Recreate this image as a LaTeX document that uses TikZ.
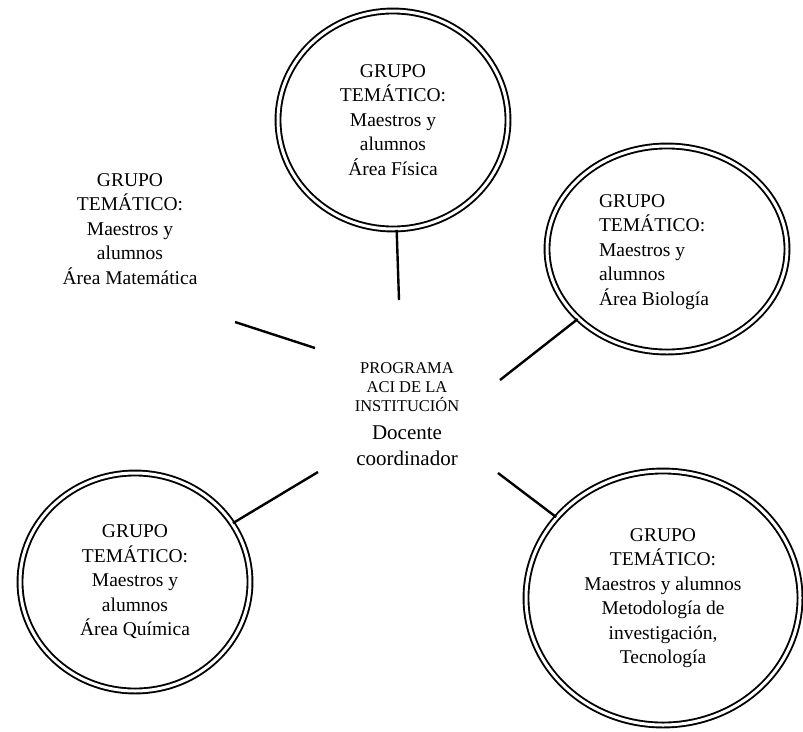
\documentclass[tikz,border=0pt]{standalone}
\usepackage{fontspec}
\setmainfont{Liberation Serif}
\usetikzlibrary{shapes.geometric}

\tikzset{
  grupo/.style={ellipse, draw, double, double distance=3pt, line width=1.9pt,
    inner sep=0pt, align=center, font=\fontsize{19.5}{24.5}\selectfont},
  texto/.style={align=center, inner sep=0pt, font=\fontsize{19.5}{24.5}\selectfont},
  enlace/.style={line width=2.4pt},
}

\begin{document}
\begin{tikzpicture}[x=1pt,y=-1pt]
  \useasboundingbox (0,0) rectangle (803,731);

  \node[grupo, minimum width=230pt, minimum height=218pt] (fis) at (393,120)
    {GRUPO\\TEMÁTICO:\\Maestros y\\alumnos\\Área Física};
  \node[grupo, minimum width=240pt, minimum height=206pt] (bio) at (667,249) {};
  \node[texto, align=left] (bio-txt) at (654,252)
    {GRUPO\\TEMÁTICO:\\Maestros y\\alumnos\\Área Biología};
  \node[grupo, minimum width=230pt, minimum height=218pt] (qui) at (135,582)
    {GRUPO\\TEMÁTICO:\\Maestros y\\alumnos\\Área Química};
  \node[grupo, minimum width=274pt, minimum height=254pt] (met) at (663,598)
    {GRUPO\\TEMÁTICO:\\Maestros y alumnos\\Metodología de\\investigación,\\Tecnología};
  \node[texto] (mat) at (130,229)
    {GRUPO\\TEMÁTICO:\\Maestros y\\alumnos\\Área Matemática};

  \node[texto, font=\fontsize{16.5}{19}\selectfont] (prog) at (407,387)
    {PROGRAMA\\ACI DE LA\\INSTITUCIÓN};
  \node[texto, font=\fontsize{21}{26}\selectfont] (doc) at (407,446)
    {Docente\\coordinador};

  \coordinate (fis-end) at (399,300);
  \coordinate (bio-end) at (500,380);
  \coordinate (qui-end) at (318,472);
  \coordinate (met-end) at (498,473);
  \coordinate (mat-a) at (235,322);
  \coordinate (mat-b) at (315,348);

  \draw[enlace] (fis) -- (fis-end);
  \draw[enlace] (bio) -- (bio-end);
  \draw[enlace] (qui) -- (qui-end);
  \draw[enlace] (met) -- (met-end);
  \draw[enlace] (mat-a) -- (mat-b);
\end{tikzpicture}
\end{document}
